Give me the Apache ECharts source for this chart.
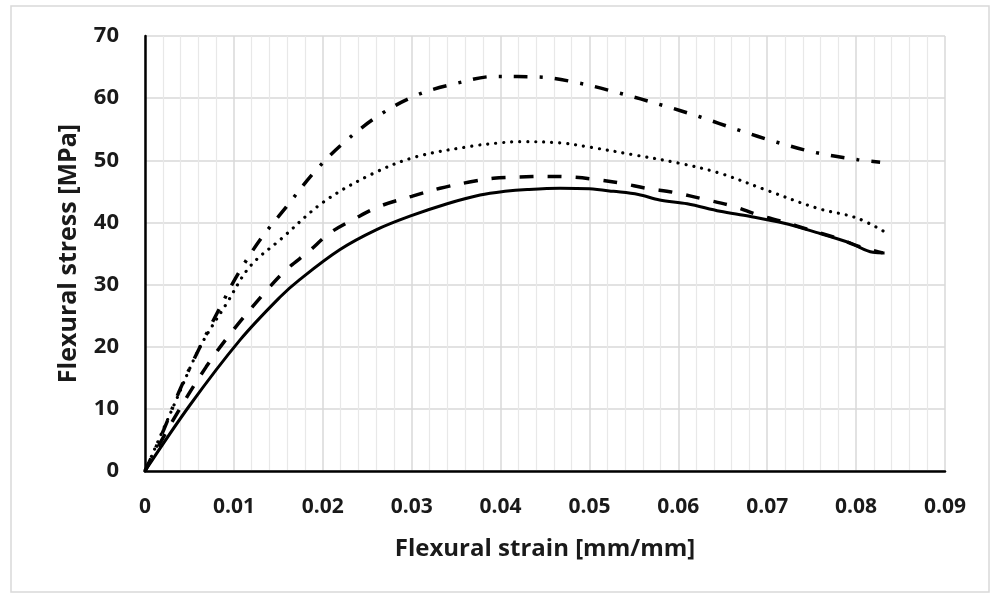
<!DOCTYPE html>
<html>
<head>
<meta charset="utf-8">
<script src="https://cdn.jsdelivr.net/npm/echarts@6/dist/echarts.min.js"></script>
<style>
  html, body { margin: 0; padding: 0; background: #fff; }
  #chart { width: 998px; height: 601px; }
</style>
</head>
<body>
<div id="chart"></div>
<script>
// x ticks (strain) and y ticks (stress)
const xTicks = [0, 0.01, 0.02, 0.03, 0.04, 0.05, 0.06, 0.07, 0.08, 0.09]
const yTicks = [0, 10, 20, 30, 40, 50, 60, 70]

// solid curve
const strainSolid = [0, 0.005, 0.0107, 0.0152, 0.0174, 0.0219, 0.026, 0.0298, 0.034, 0.0377, 0.0405, 0.043, 0.0467, 0.05, 0.0527, 0.0555, 0.0579, 0.061, 0.0647, 0.068, 0.0718, 0.0755, 0.0793, 0.0819, 0.0832]
const stressSolid = [0, 10.5, 21.1, 28.0, 30.8, 35.6, 38.8, 41.0, 43.0, 44.4, 45.0, 45.3, 45.5, 45.4, 45.0, 44.5, 43.6, 43.0, 41.8, 41.0, 39.9, 38.4, 36.7, 35.2, 35.1]

// dashed curve
const strainDash = [0, 0.003, 0.0069, 0.0101, 0.0139, 0.0159, 0.0184, 0.0208, 0.0236, 0.0264, 0.03, 0.0332, 0.0365, 0.0392, 0.042, 0.0452, 0.048, 0.0508, 0.0536, 0.0564, 0.0596, 0.063, 0.0662, 0.069, 0.0718, 0.0748, 0.0778, 0.0804, 0.083]
const stressDash = [0, 7.8, 16.8, 23.0, 29.4, 32.4, 35.3, 38.3, 40.6, 42.6, 44.2, 45.5, 46.5, 47.1, 47.3, 47.4, 47.3, 46.9, 46.3, 45.5, 44.8, 43.7, 42.6, 41.2, 40.1, 38.8, 37.5, 36.1, 35.1]

// dotted curve
const strainDot = [0, 0.0032, 0.0062, 0.0092, 0.0118, 0.0152, 0.0201, 0.0257, 0.0306, 0.0369, 0.0399, 0.0422, 0.0467, 0.0501, 0.0549, 0.0602, 0.0647, 0.0699, 0.0756, 0.0801, 0.0832]
const stressDot = [0, 10.4, 20.0, 27.0, 32.9, 37.2, 43.3, 47.9, 50.6, 52.3, 52.8, 53.0, 52.8, 52.1, 50.9, 49.5, 47.9, 45.2, 42.3, 40.7, 38.5]

// dash-dot curve
const strainDashDot = [0, 0.0021, 0.0039, 0.0062, 0.0084, 0.0105, 0.0131, 0.0159, 0.0191, 0.0225, 0.0264, 0.0306, 0.0351, 0.0394, 0.0444, 0.0489, 0.0534, 0.0581, 0.0624, 0.0667, 0.0711, 0.0756, 0.0802, 0.0827]
const stressDashDot = [0, 6.6, 13.0, 20.0, 26.2, 31.8, 37.5, 42.5, 48.2, 53.0, 57.3, 60.5, 62.4, 63.5, 63.4, 62.4, 60.8, 58.9, 57.0, 54.9, 52.9, 51.2, 50.1, 49.7]

const pairs = (xs, ys) => xs.map((x, i) => [x, ys[i]])

const makeLine = (name, data, width, type, cap) => ({
  name: name,
  type: 'line',
  data: data,
  showSymbol: false,
  smooth: 0.35,
  lineStyle: { color: '#000', width: width, type: type, cap: cap || 'butt' },
  z: 5
})

const chart = echarts.init(document.getElementById('chart'), null, { renderer: 'canvas' })

const option = {
  animation: false,
  backgroundColor: '#fff',
  graphic: [{
    type: 'rect',
    shape: { x: 11, y: 6, width: 978, height: 586 },
    style: { fill: 'none', stroke: '#d9d9d9', lineWidth: 1.5 },
    silent: true
  }],
  grid: { left: 145, right: 53, top: 36, bottom: 130 },
  xAxis: {
    type: 'value',
    min: xTicks[0],
    max: xTicks[xTicks.length - 1],
    interval: 0.01,
    name: 'Flexural strain [mm/mm]',
    nameLocation: 'middle',
    nameGap: 66,
    nameTextStyle: { fontFamily: 'Open Sans', fontWeight: 'bold', fontSize: 24, color: '#1a1a1a' },
    axisLine: { onZero: false, lineStyle: { color: '#000', width: 2.5 } },
    axisTick: { show: false },
    axisLabel: {
      margin: 26,
      fontFamily: 'Open Sans',
      fontWeight: 'bold',
      fontSize: 21,
      color: '#1a1a1a',
      formatter: v => (v === 0 ? '0' : String(+v.toFixed(2)))
    },
    splitLine: { show: true, lineStyle: { color: '#d9d9d9', width: 1.5 } },
    minorTick: { show: false, splitNumber: 5 },
    minorSplitLine: { show: true, lineStyle: { color: '#e8e8e8', width: 1.2 } }
  },
  yAxis: {
    type: 'value',
    min: yTicks[0],
    max: yTicks[yTicks.length - 1],
    interval: 10,
    name: 'Flexural stress [MPa]',
    nameLocation: 'middle',
    nameGap: 64,
    nameTextStyle: { fontFamily: 'Open Sans', fontWeight: 'bold', fontSize: 25, color: '#1a1a1a' },
    axisLine: { lineStyle: { color: '#000', width: 2.5 } },
    axisTick: { show: false },
    axisLabel: {
      margin: 26,
      fontFamily: 'Open Sans',
      fontWeight: 'bold',
      fontSize: 22,
      color: '#1a1a1a'
    },
    splitLine: { show: true, lineStyle: { color: '#d9d9d9', width: 1.5 } }
  },
  series: [
    makeLine('Solid', pairs(strainSolid, stressSolid), 3, 'solid'),
    makeLine('Dashed', pairs(strainDash, stressDash), 3.5, [14, 14]),
    makeLine('Dotted', pairs(strainDot, stressDot), 3.2, [0.01, 8], 'round'),
    makeLine('DashDot', pairs(strainDashDot, stressDashDot), 3.5, [14, 12, 3, 12])
  ]
}

chart.setOption(option)
</script>
</body>
</html>
